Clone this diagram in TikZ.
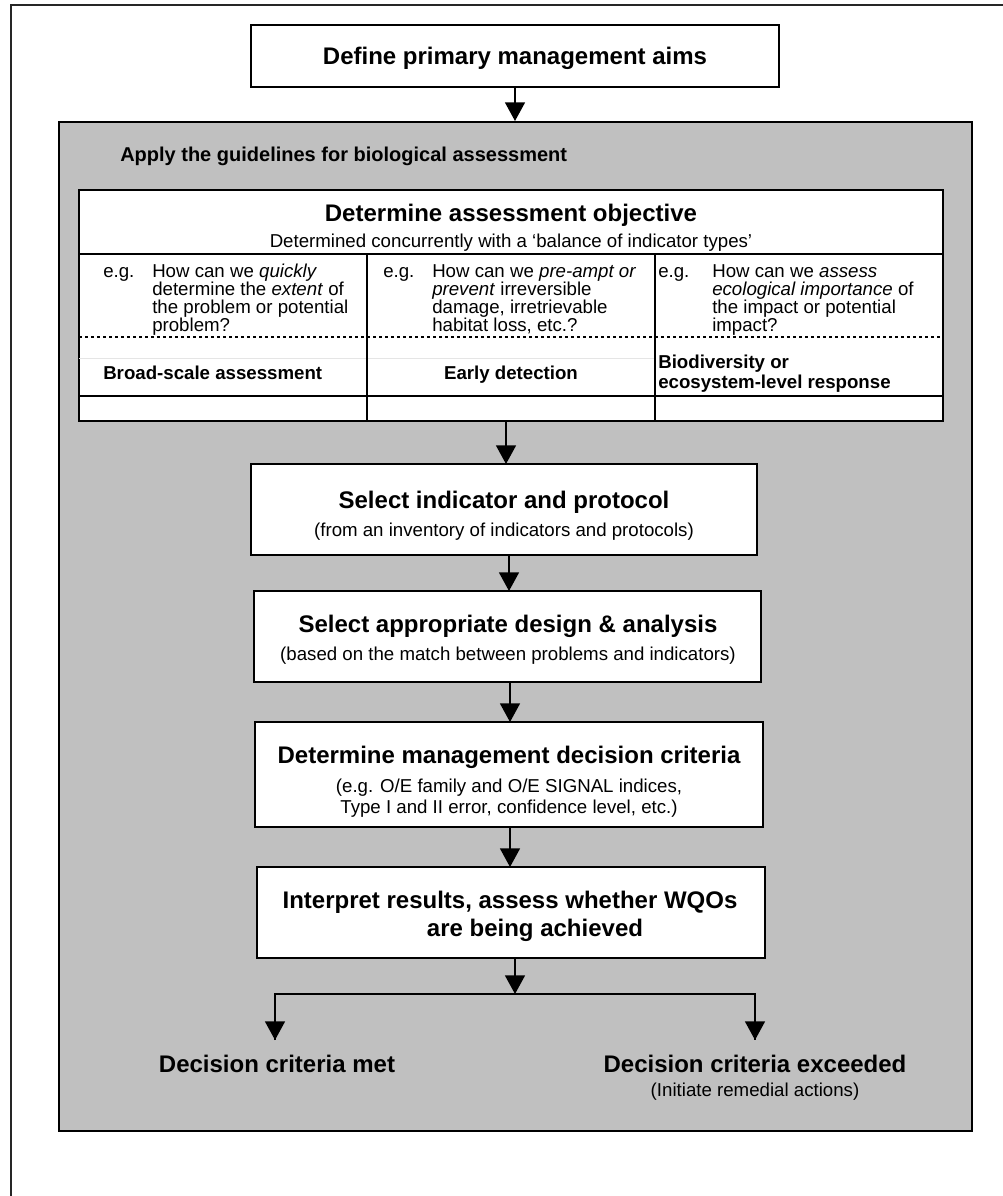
\documentclass[tikz,border=0pt]{standalone}
\usepackage{fontspec}
\setmainfont{Liberation Sans}
\usetikzlibrary{arrows.meta,fit}
\definecolor{panel}{RGB}{192,192,192}
\begin{document}
\begin{tikzpicture}[x=0.75pt,y=-0.75pt,
  frame/.style={draw, line width=1.5pt, inner sep=0pt},
  whitebox/.style={frame, fill=white},
  arr/.style={line width=1.1pt, -{Triangle[length=14pt,width=15pt]}},
  rule/.style={line width=1.5pt},
  title/.style={font=\fontsize{18}{21}\selectfont\bfseries, inner sep=0pt},
  heading/.style={font=\fontsize{15}{18}\selectfont\bfseries, inner sep=0pt},
  sub/.style={font=\fontsize{14}{16}\selectfont, inner sep=0pt},
  cell/.style={font=\fontsize{14}{13.5}\selectfont, inner sep=0pt, align=left, anchor=base west},
  label/.style={font=\fontsize{14}{15}\selectfont\bfseries, inner sep=0pt}]
\useasboundingbox (0,0) rectangle (1003,1196);

% page frame
\draw[line width=1.5pt, black!85] (11,1196) -- (11,5) -- (1003,5);

% first step
\node[whitebox, fit={(251,25) (779,87)}] (aims) {};
\node[title, anchor=base] (aimsT) at (515,64) {Define primary management aims};

% grey panel holding the guideline steps
\node[frame, fill=panel, fit={(59,122) (972,1131)}] (panel) {};
\node[heading, anchor=base west] (panelT) at (120,161) {Apply the guidelines for biological assessment};

\draw[arr] (aims.south) -- (aims.south |- panel.north);

% objective table
\node[whitebox, fit={(79,190) (943,421)}] (tab) {};
\coordinate (rowA) at (79,254);
\coordinate (rowB) at (79,337);
\coordinate (rowC) at (79,358);
\coordinate (rowD) at (79,396);
\draw[rule] (rowA) -- (rowA -| tab.east);
\draw[rule] (rowD) -- (rowD -| tab.east);
\draw[line width=2.2pt, dash pattern=on 2.2pt off 2.3pt] (rowB) -- (rowB -| tab.east);
\draw[line width=0.6pt, black!10] (rowC) -- (655,358);
\draw[rule] (367,254) -- (367,421);
\draw[rule] (655,254) -- (655,421);

\node[title, anchor=base] (tabT) at (511,221) {Determine assessment objective};
\node[sub, anchor=base] (tabS) at (511,247) {Determined concurrently with a ‘balance of indicator types’};

% question cells (anchored on the baseline of their last line)
\node[cell] (eg1) at (103,277) {e.g.};
\node[cell] (q1) at (152,331) {How can we \textit{quickly}\\determine the \textit{extent} of\\the problem or potential\\problem?};
\node[cell] (eg2) at (383,277) {e.g.};
\node[cell] (q2) at (432,331) {How can we \textit{pre-ampt or}\\\textit{prevent} irreversible\\damage, irretrievable\\habitat loss, etc.?};
\node[cell] (eg3) at (658,277) {e.g.};
\node[cell] (q3) at (712,331) {How can we \textit{assess}\\\textit{ecological importance} of\\the impact or potential\\impact?};

\node[label, anchor=base west] (k1) at (103,379) {Broad-scale assessment};
\node[label, anchor=base] (k2) at (511,379) {Early detection};
\node[label, anchor=base west, align=left] (k3) at (658,388) {Biodiversity or\\ecosystem-level response};

% sequence of steps
\node[whitebox, fit={(251,464) (757,555)}] (sel) {};
\node[title, anchor=base] (selT) at (504,508) {Select indicator and protocol};
\node[sub, anchor=base] (selS) at (504,536) {(from an inventory of indicators and protocols)};

\node[whitebox, fit={(254,591) (761,682)}] (des) {};
\node[title, anchor=base] (desT) at (508,632) {Select appropriate design \& analysis};
\node[sub, anchor=base] (desS) at (508,660) {(based on the match between problems and indicators)};

\node[whitebox, fit={(255,722) (763,827)}] (crit) {};
\node[title, anchor=base] (critT) at (509,763) {Determine management decision criteria};
\node[sub, anchor=base] (critS1) at (509,792) {(e.g. O/E family and O/E SIGNAL indices,};
\node[sub, anchor=base] (critS2) at (509,813) {Type I and II error, confidence level, etc.)};

\node[whitebox, fit={(257,867) (765,958)}] (interp) {};
\node[title, anchor=base] (interpT1) at (510,908) {Interpret results, assess whether WQOs};
\node[title, anchor=base] (interpT2) at (535,936) {are being achieved};

\draw[arr] (506,421) -- (506,464);
\draw[arr] (509,555) -- (509,591);
\draw[arr] (510,682) -- (510,722);
\draw[arr] (510,827) -- (510,867);

% branching outcome
\coordinate (fork) at (515,994);
\coordinate (forkL) at (275,994);
\coordinate (forkR) at (755,994);
\coordinate (endL) at (275,1040);
\coordinate (endR) at (755,1040);
\draw[arr] (interp.south -| fork) -- (fork);
\draw[line width=1.1pt] (endL) -- (forkL) -- (forkR) -- (endR);
\draw[arr] (forkL) -- (endL);
\draw[arr] (forkR) -- (endR);

\node[title, anchor=base] (met) at (277,1072) {Decision criteria met};
\node[title, anchor=base] (exc) at (755,1072) {Decision criteria exceeded};
\node[sub, anchor=base] (excS) at (755,1096) {(Initiate remedial actions)};
\end{tikzpicture}
\end{document}
